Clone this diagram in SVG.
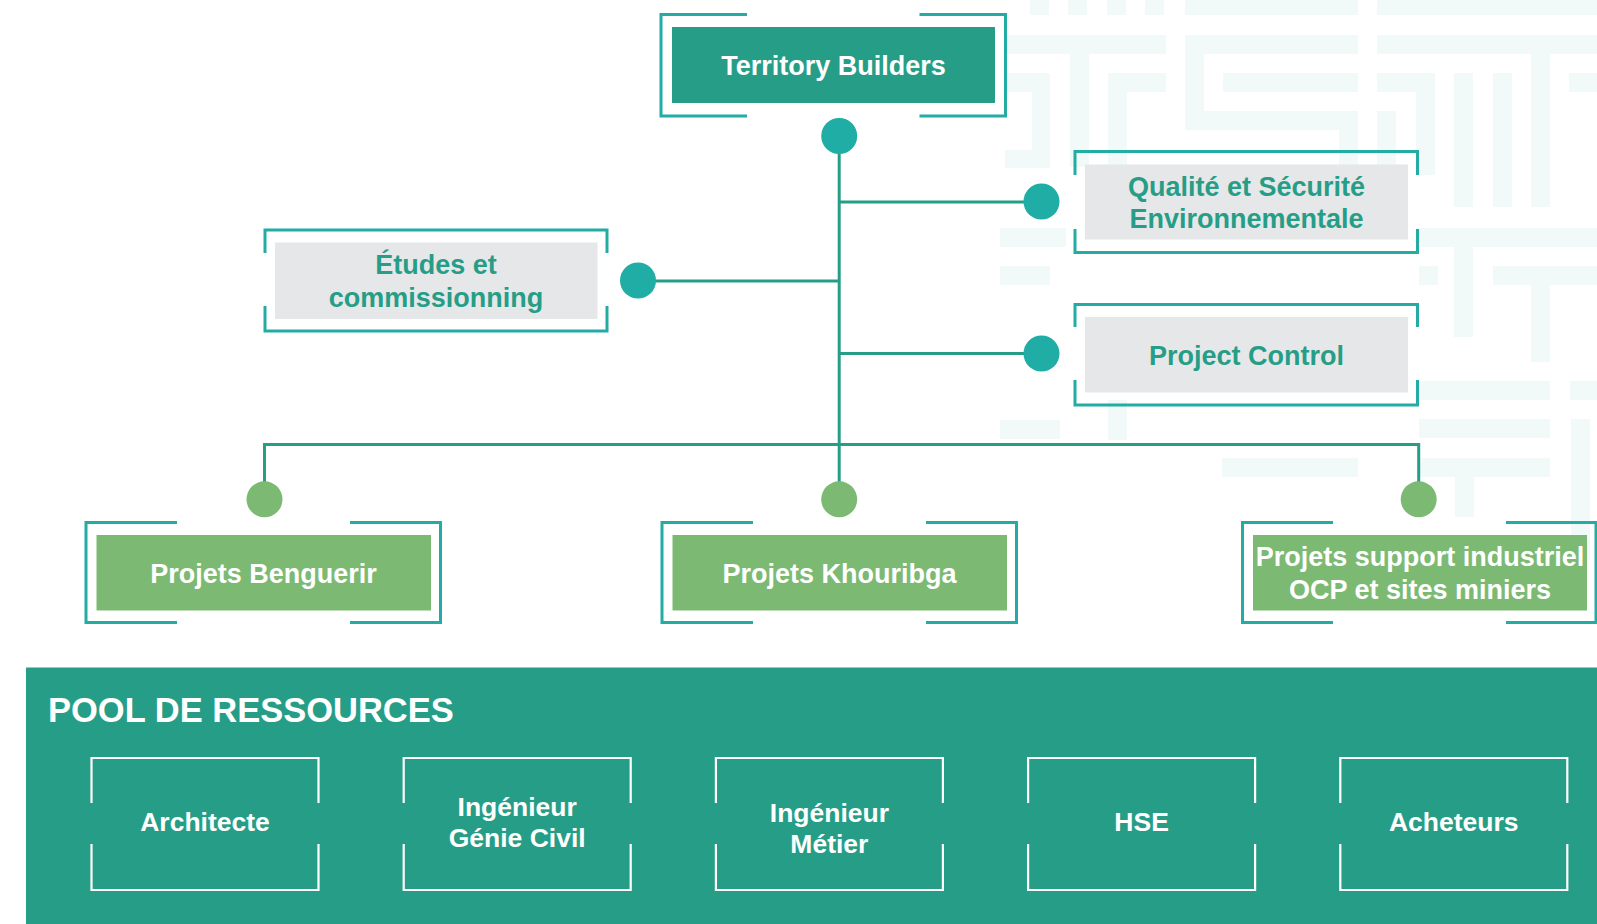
<svg xmlns="http://www.w3.org/2000/svg" width="1597" height="924" viewBox="0 0 1597 924">
<defs>
<style>
.bg{fill:#f2f9f9}
.frame{fill:none;stroke:#22aca4;stroke-width:3}
.wframe{fill:none;stroke:#ffffff;stroke-width:2.2}
.conn{fill:none;stroke:#269e87;stroke-width:3}
.dotT{fill:#1fada5}
.dotG{fill:#7cba73}
.dark{fill:#269e87}
.gray{fill:#e6e7e9}
.green{fill:#7cba73}
.t{font-family:"Liberation Sans",Arial,sans-serif;font-weight:bold;font-size:27px;text-anchor:middle}
.tw{fill:#ffffff}
.tg{fill:#269e87}
.tp{font-family:"Liberation Sans",Arial,sans-serif;font-weight:bold;font-size:26.5px;text-anchor:middle;fill:#ffffff}
</style>
</defs>
<rect width="1597" height="924" fill="#ffffff"/>
<g id="background-pattern">
<rect class="bg" x="1030" y="0" width="19" height="15"/>
<rect class="bg" x="1068" y="0" width="19" height="15"/>
<rect class="bg" x="1107" y="0" width="19" height="15"/>
<rect class="bg" x="1145" y="0" width="19" height="15"/>
<rect class="bg" x="1185" y="0" width="173" height="15"/>
<rect class="bg" x="1377" y="0" width="220" height="15"/>
<rect class="bg" x="1005" y="35" width="161" height="19"/>
<rect class="bg" x="1185" y="35" width="173" height="19"/>
<rect class="bg" x="1377" y="35" width="220" height="19"/>
<rect class="bg" x="1070" y="54" width="19" height="113"/>
<rect class="bg" x="1005" y="73" width="45" height="19"/>
<rect class="bg" x="1032" y="92" width="18" height="58"/>
<rect class="bg" x="1005" y="150" width="45" height="18"/>
<rect class="bg" x="1108" y="73" width="58" height="19"/>
<rect class="bg" x="1108" y="92" width="19" height="75"/>
<rect class="bg" x="1185" y="54" width="19" height="76"/>
<rect class="bg" x="1223" y="73" width="135" height="19"/>
<rect class="bg" x="1204" y="111" width="154" height="19"/>
<rect class="bg" x="1339" y="130" width="19" height="45"/>
<rect class="bg" x="1377" y="73" width="58" height="19"/>
<rect class="bg" x="1416" y="92" width="19" height="83"/>
<rect class="bg" x="1377" y="111" width="19" height="64"/>
<rect class="bg" x="1454" y="73" width="19" height="134"/>
<rect class="bg" x="1493" y="73" width="19" height="134"/>
<rect class="bg" x="1531" y="35" width="19" height="172"/>
<rect class="bg" x="1569" y="73" width="28" height="19"/>
<rect class="bg" x="1000" y="228" width="66" height="19"/>
<rect class="bg" x="1419" y="228" width="178" height="19"/>
<rect class="bg" x="1454" y="247" width="19" height="90"/>
<rect class="bg" x="1493" y="266" width="104" height="19"/>
<rect class="bg" x="1531" y="285" width="19" height="77"/>
<rect class="bg" x="1419" y="266" width="19" height="19"/>
<rect class="bg" x="1000" y="266" width="50" height="19"/>
<rect class="bg" x="1419" y="381" width="131" height="19"/>
<rect class="bg" x="1570" y="381" width="27" height="19"/>
<rect class="bg" x="1419" y="419" width="131" height="19"/>
<rect class="bg" x="1571" y="419" width="19" height="141"/>
<rect class="bg" x="1222" y="458" width="136" height="19"/>
<rect class="bg" x="1419" y="458" width="131" height="19"/>
<rect class="bg" x="1455" y="477" width="19" height="40"/>
<rect class="bg" x="1000" y="420" width="60" height="19"/>
<rect class="bg" x="1108" y="400" width="19" height="40"/>
</g>
<g id="connectors">
<path class="conn" d="M839.2 136 V444.5"/>
<path class="conn" d="M839.2 202 H1041.5"/>
<path class="conn" d="M839.2 281 H638"/>
<path class="conn" d="M839.2 353.5 H1041.5"/>
<path class="conn" d="M264.5 499 V444.5 H1418.7 V499"/>
<path class="conn" d="M839.2 444.5 V499"/>
<circle class="dotT" cx="839.2" cy="136" r="18"/>
<circle class="dotT" cx="638" cy="280.5" r="18"/>
<circle class="dotT" cx="1041.5" cy="201.5" r="18"/>
<circle class="dotT" cx="1041.5" cy="353.5" r="18"/>
<circle class="dotG" cx="264.5" cy="499.3" r="18"/>
<circle class="dotG" cx="839.2" cy="499.3" r="18"/>
<circle class="dotG" cx="1418.7" cy="499.3" r="18"/>
</g>
<g id="node-territory">
<path class="frame" d="M747 14.5 H661 V116 H747 M919.5 14.5 H1005.5 V116 H919.5"/>
<rect class="dark" x="672" y="27" width="323" height="76"/>
<text class="t tw" x="833.5" y="75">Territory Builders</text>
</g>
<g id="node-etudes">
<path class="frame" d="M265 253 V230 H607 V253 M265 306 V331 H607 V306"/>
<rect class="gray" x="275" y="242.5" width="322.5" height="76.5"/>
<text class="t tg" x="436" y="273.8">Études et</text>
<text class="t tg" x="436" y="307.3">commissionning</text>
</g>
<g id="node-qualite">
<path class="frame" d="M1075 175 V151.5 H1417.5 V175 M1075 229 V252.5 H1417.5 V229"/>
<rect class="gray" x="1085" y="164.5" width="323" height="75"/>
<text class="t tg" x="1246.5" y="195.5">Qualité et Sécurité</text>
<text class="t tg" x="1246.5" y="227.7">Environnementale</text>
</g>
<g id="node-project-control">
<path class="frame" d="M1075 327 V304.5 H1417.5 V327 M1075 380 V405 H1417.5 V380"/>
<rect class="gray" x="1085" y="317" width="323" height="75.5"/>
<text class="t tg" x="1246.5" y="364.5">Project Control</text>
</g>
<g id="node-benguerir">
<path class="frame" d="M177 522.5 H86 V622.5 H177 M350 522.5 H440.5 V622.5 H350"/>
<rect class="green" x="96.5" y="535" width="334.5" height="75.5"/>
<text class="t tw" x="263.5" y="583.3">Projets Benguerir</text>
</g>
<g id="node-khouribga">
<path class="frame" d="M753 522.5 H662 V622.5 H753 M926 522.5 H1016.5 V622.5 H926"/>
<rect class="green" x="672.5" y="535" width="334.5" height="75.5"/>
<text class="t tw" x="839.5" y="583.3">Projets Khouribga</text>
</g>
<g id="node-support">
<path class="frame" d="M1333 522.5 H1242.5 V622.5 H1333 M1506 522.5 H1596 V622.5 H1506"/>
<rect class="green" x="1253" y="535" width="334" height="75.5"/>
<text class="t tw" x="1420" y="565.5">Projets support industriel</text>
<text class="t tw" x="1420" y="598.5">OCP et sites miniers</text>
</g>
<g id="pool">
<rect class="dark" x="26" y="667.5" width="1571" height="256.5"/>
<text x="48" y="721.5" font-family="'Liberation Sans',Arial,sans-serif" font-weight="bold" font-size="34.5" fill="#ffffff">POOL DE RESSOURCES</text>
</g>
<g id="res-architecte">
<path class="wframe" d="M91.5 803 V758 H318.5 V803 M91.5 844 V890 H318.5 V844"/>
<text class="tp" x="205" y="830.5">Architecte</text>
</g>
<g id="res-genie-civil">
<path class="wframe" d="M403.7 803 V758 H630.7 V803 M403.7 844 V890 H630.7 V844"/>
<text class="tp" x="517.2" y="815.5">Ingénieur</text>
<text class="tp" x="517.2" y="846.5">Génie Civil</text>
</g>
<g id="res-metier">
<path class="wframe" d="M715.9 803 V758 H942.9 V803 M715.9 844 V890 H942.9 V844"/>
<text class="tp" x="829.4" y="821.7">Ingénieur</text>
<text class="tp" x="829.4" y="853">Métier</text>
</g>
<g id="res-hse">
<path class="wframe" d="M1028.1 803 V758 H1255.1 V803 M1028.1 844 V890 H1255.1 V844"/>
<text class="tp" x="1141.6" y="830.5">HSE</text>
</g>
<g id="res-acheteurs">
<path class="wframe" d="M1340.3 803 V758 H1567.3 V803 M1340.3 844 V890 H1567.3 V844"/>
<text class="tp" x="1453.8" y="830.5">Acheteurs</text>
</g>
</svg>
